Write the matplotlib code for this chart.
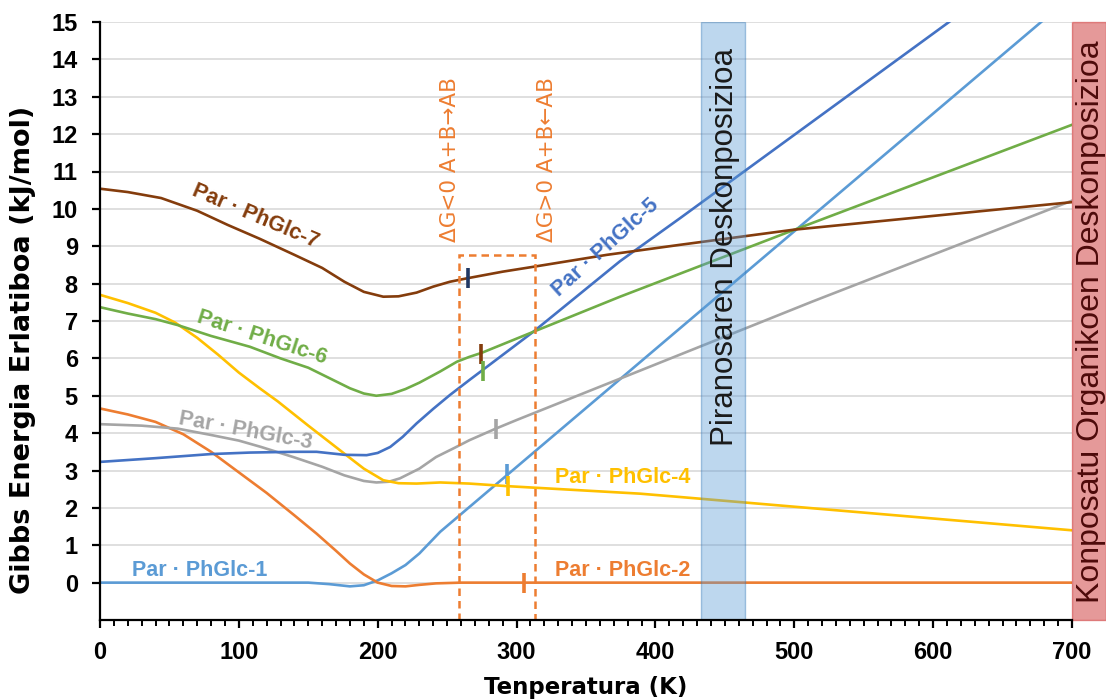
import matplotlib
matplotlib.use("Agg")
import matplotlib.pyplot as plt
from matplotlib.patches import Rectangle
from matplotlib.ticker import MultipleLocator

plt.rcParams["font.family"] = ["Liberation Sans", "DejaVu Sans"]

# curves (T in K, relative Gibbs energy in kJ/mol)
t1 = [0, 150, 165, 180, 190, 200, 210, 220, 230, 245, 500, 700]
g1 = [0, 0, -0.04, -0.1, -0.07, 0.06, 0.25, 0.47, 0.78, 1.36, 9.4, 15.7]

t2 = [0, 20, 40, 60, 80, 100, 120, 140, 156, 170, 180, 190, 200, 210, 220, 230, 242, 260, 700]
g2 = [4.66, 4.5, 4.3, 3.97, 3.5, 2.95, 2.4, 1.8, 1.31, 0.85, 0.51, 0.22, 0.0, -0.09, -0.1, -0.06,
      -0.02, 0, 0]

t3 = [0, 30, 56, 80, 100, 116, 140, 160, 176, 190, 199, 208, 216, 230, 242, 255, 266, 285, 300,
      372, 513, 700]
g3 = [4.24, 4.2, 4.12, 3.95, 3.8, 3.63, 3.35, 3.1, 2.87, 2.72, 2.68, 2.7, 2.79, 3.05, 3.36, 3.6,
      3.81, 4.12, 4.35, 5.42, 7.52, 10.22]

t4 = [0, 20, 40, 54, 70, 85, 100, 115, 128, 150, 176, 190, 204, 215, 228, 245, 266, 294, 389, 418,
      700]
g4 = [7.7, 7.48, 7.22, 6.96, 6.55, 6.1, 5.62, 5.2, 4.85, 4.2, 3.45, 3.05, 2.74, 2.66, 2.65, 2.68,
      2.65, 2.58, 2.38, 2.29, 1.4]

t5 = [0, 40, 80, 108, 140, 156, 176, 192, 200, 209, 218, 228, 240, 252, 266, 276, 312, 374.5,
      417.7, 700]
g5 = [3.23, 3.33, 3.44, 3.48, 3.5, 3.5, 3.42, 3.41, 3.47, 3.63, 3.9, 4.26, 4.65, 5.02, 5.42, 5.7,
      6.71, 8.6, 9.75, 17.4]

t6 = [0, 20, 40, 56, 80, 108, 130, 150, 168, 180, 190, 199, 210, 220, 230, 245, 257, 266, 275,
      312, 374.5, 500, 700]
g6 = [7.37, 7.2, 7.05, 6.89, 6.6, 6.31, 6.0, 5.75, 5.42, 5.2, 5.06, 5.0, 5.05, 5.18, 5.35, 5.65,
      5.91, 6.04, 6.15, 6.71, 7.65, 9.44, 12.25]

t7 = [0, 20, 44, 70, 92, 115, 140, 160, 176, 190, 204, 215, 228, 240, 252, 264, 290, 312, 365,
      418, 499, 700]
g7 = [10.54, 10.45, 10.29, 9.95, 9.57, 9.2, 8.77, 8.42, 8.05, 7.78, 7.65, 7.66, 7.76, 7.92, 8.05,
      8.14, 8.32, 8.45, 8.77, 9.04, 9.44, 10.18]

series = [
    ("Par · PhGlc-1", t1, g1, "#5B9BD5"),
    ("Par · PhGlc-2", t2, g2, "#ED7D31"),
    ("Par · PhGlc-3", t3, g3, "#A5A5A5"),
    ("Par · PhGlc-4", t4, g4, "#FFC000"),
    ("Par · PhGlc-5", t5, g5, "#4472C4"),
    ("Par · PhGlc-6", t6, g6, "#70AD47"),
    ("Par · PhGlc-7", t7, g7, "#843C0C"),
]

# short vertical marks on the curves
mark_t = [264.8, 274.4, 276, 285, 293, 294, 305.6]
mark_g = [8.16, 6.13, 5.66, 4.12, 2.9, 2.58, 0]
mark_c = ["#203864", "#843C0C", "#70AD47", "#A5A5A5", "#5B9BD5", "#FFC000", "#ED7D31"]

# regions
box_t = (258.8, 313.3)
box_top = 8.77
pyranose_t = (433, 464.5)
organic_t = (700, 724.5)

# series label placement: (x, y, rotation)
label_pos = {
    "Par · PhGlc-1": (72, 0.32, 0),
    "Par · PhGlc-2": (376.6, 0.32, 0),
    "Par · PhGlc-3": (105, 4.05, -10.5),
    "Par · PhGlc-4": (376.6, 2.8, 0),
    "Par · PhGlc-5": (364, 8.95, 42),
    "Par · PhGlc-6": (117, 6.55, -18),
    "Par · PhGlc-7": (112, 9.8, -23),
}

fig = plt.figure(figsize=(11.06, 7), dpi=100)
ax = fig.add_axes([100 / 1106, 1 - 620 / 700, 972 / 1106, 598 / 700])

for name, t, g, c in series:
    ax.plot(t, g, color=c, linewidth=1.9, zorder=3)
    x, y, rot = label_pos[name]
    ax.text(x, y, name, color=c, fontsize=15.5, fontweight="bold", rotation=rot,
            rotation_mode="anchor", ha="center", va="center", zorder=5)

for t, g, c in zip(mark_t, mark_g, mark_c):
    ax.plot(t, g, marker="|", markersize=15, markeredgewidth=2.6, color=c, zorder=4)

ax.add_patch(Rectangle((box_t[0], -1), box_t[1] - box_t[0], box_top + 1, fill=False,
                       edgecolor="#ED7D31", linestyle=(0, (3, 2)), linewidth=1.8, zorder=4))

for xt, txt in [(256.4, "ΔG<0 A+B→AB"), (326.2, "ΔG>0 A+B←AB")]:
    ax.text(xt, 11.33, txt, color="#ED7D31", fontsize=15.5, rotation=90,
            family="DejaVu Sans", rotation_mode="anchor", ha="center", va="baseline")

ax.add_patch(Rectangle((pyranose_t[0], -1), pyranose_t[1] - pyranose_t[0], 16,
                       facecolor="#5B9BD5", alpha=0.4, edgecolor="#2E75B6", linewidth=1,
                       zorder=6))
ax.text(456.1, 8.97, "Piranosaren Deskonposizioa", color="#1a1a1a", fontsize=22.5,
        rotation=90, rotation_mode="anchor", ha="center", va="baseline", zorder=7)

ax.add_patch(Rectangle((organic_t[0], -1), organic_t[1] - organic_t[0], 16,
                       facecolor="#C00000", alpha=0.4, edgecolor="#C00000", linewidth=1,
                       zorder=6, clip_on=False))
ax.text(719.5, 6.97, "Konposatu Organikoen Deskonposizioa", color="#4d0a0a", fontsize=23,
        rotation=90, rotation_mode="anchor", ha="center", va="baseline", zorder=7,
        clip_on=False)

ax.set_xlim(0, 700)
ax.set_ylim(-1, 15)
ax.set_yticks(range(0, 16))
ax.set_xticks(range(0, 701, 100))
ax.xaxis.set_minor_locator(MultipleLocator(10))
ax.grid(axis="y", color="#D9D9D9", linewidth=1.2, zorder=0)
ax.set_axisbelow(True)

for s in ["top", "right"]:
    ax.spines[s].set_visible(False)
for s in ["left", "bottom"]:
    ax.spines[s].set_linewidth(1.6)
    ax.spines[s].set_zorder(8)

ax.tick_params(axis="both", which="major", direction="out", length=6, width=1.6, labelsize=17)
ax.tick_params(axis="x", which="minor", direction="out", length=4, width=1.4)
ax.tick_params(axis="y", pad=10)
ax.tick_params(axis="x", pad=9)
for lab in ax.get_xticklabels() + ax.get_yticklabels():
    lab.set_fontweight("bold")

ax.set_xlabel("Tenperatura (K)", fontsize=16.5, fontweight="bold", family="DejaVu Sans",
              labelpad=9)
ax.set_ylabel("Gibbs Energia Erlatiboa (kJ/mol)", fontsize=19.5, fontweight="bold",
              family="DejaVu Sans")
ax.yaxis.set_label_coords(-0.066, 0.452)

plt.savefig("out.png", dpi=100)
plt.close()
